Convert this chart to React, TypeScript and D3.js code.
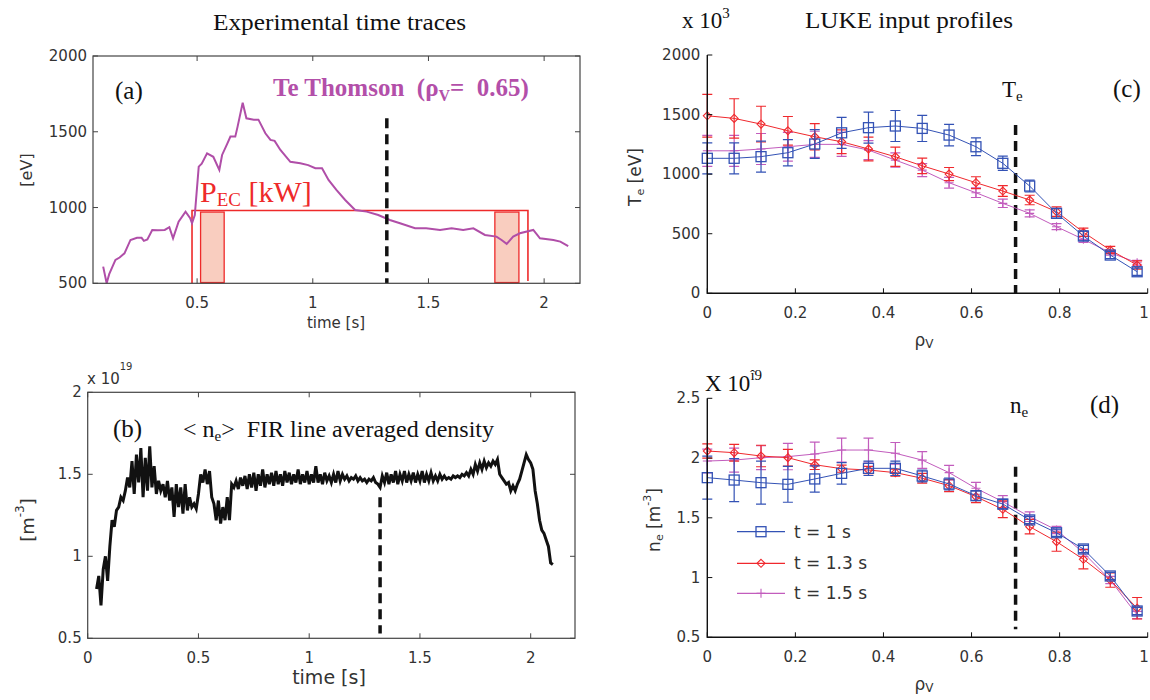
import React from "react";
import * as d3 from "d3";

// ---------- Panel (a): Te Thomson time trace ----------
const teT = [0.094,0.109,0.12,0.147,0.165,0.186,0.212,0.24,0.26,0.27,0.285,0.306,0.33,0.36,0.38,0.396,0.42,0.45,0.47,0.478,0.49,0.507,0.52,0.543,0.57,0.596,0.608,0.63,0.644,0.665,0.675,0.697,0.713,0.745,0.765,0.795,0.817,0.835,0.86,0.903,0.946,0.98,1.011,1.04,1.068,1.102,1.14,1.183,1.233,1.283,1.333,1.377,1.442,1.49,1.55,1.6,1.65,1.694,1.744,1.794,1.816,1.838,1.866,1.895,1.953,1.982,2.04,2.07,2.104];
const teV = [610,500,560,654,670,698,786,800,800,780,790,852,850,852,870,797,907,973,930,896,950,1270,1290,1358,1335,1248,1347,1420,1468,1468,1534,1692,1589,1580,1580,1490,1446,1440,1380,1302,1292,1280,1259,1259,1182,1116,1050,984,973,951,918,896,863,863,852,863,852,863,819,808,786,760,808,830,852,797,786,775,746];
const pecOn = 0.478, pecOff = 1.93, pecLevel = 980;
const pecWindows = [[0.515, 0.617], [1.787, 1.891]];
const tMark = 1.32;
const aXTicks = [0.5, 1, 1.5, 2];
const aYTicks = [500, 1000, 1500, 2000];

// ---------- Panel (b): FIR line averaged density ----------
const nbStart = 0.04, nbStep = 0.01;
const nbV = [
0.80,0.88,0.70,0.92,1.00,0.85,1.06,1.22,1.18,1.28,
1.30,1.36,1.34,1.40,1.48,1.42,1.58,1.38,1.62,1.45,
1.66,1.36,1.60,1.40,1.67,1.42,1.55,1.38,1.46,1.40,
1.44,1.36,1.46,1.34,1.42,1.24,1.44,1.30,1.42,1.26,
1.44,1.28,1.36,1.30,1.32,1.29,1.38,1.50,1.45,1.53,
1.44,1.52,1.36,1.32,1.22,1.34,1.20,1.30,1.22,1.36,
1.22,1.44,1.42,1.46,1.41,1.48,1.43,1.49,1.41,1.50,
1.42,1.51,1.40,1.50,1.43,1.53,1.42,1.50,1.44,1.51,
1.43,1.52,1.44,1.50,1.43,1.52,1.45,1.51,1.44,1.50,
1.45,1.53,1.44,1.50,1.45,1.52,1.44,1.50,1.45,1.55,
1.45,1.50,1.44,1.51,1.46,1.49,1.45,1.50,1.45,1.52,
1.46,1.50,1.47,1.49,1.46,1.48,1.47,1.49,1.46,1.48,
1.46,1.47,1.45,1.47,1.46,1.48,1.45,1.44,1.42,1.49,
1.45,1.51,1.44,1.50,1.45,1.52,1.44,1.50,1.46,1.52,
1.45,1.50,1.46,1.51,1.45,1.50,1.46,1.52,1.45,1.50,
1.46,1.51,1.46,1.49,1.46,1.50,1.47,1.49,1.47,1.48,
1.47,1.49,1.48,1.49,1.48,1.50,1.49,1.51,1.49,1.53,
1.50,1.56,1.52,1.57,1.53,1.58,1.54,1.57,1.55,1.58,
1.56,1.59,1.50,1.48,1.46,1.44,1.45,1.40,1.43,1.40,
1.44,1.47,1.52,1.57,1.62,1.59,1.57,1.53,1.40,1.32,
1.22,1.16,1.14,1.10,1.06,0.96,0.95];
const bXTicks = [0, 0.5, 1, 1.5, 2];
const bYTicks = [0.5, 1, 1.5, 2];

// ---------- Panels (c), (d): LUKE input profiles ----------
const rho = [0,0.061,0.122,0.183,0.244,0.305,0.366,0.427,0.488,0.549,0.610,0.671,0.732,0.793,0.854,0.915,0.976];
const te1 = [1133,1133,1147,1180,1253,1347,1390,1404,1384,1328,1230,1091,900,671,481,321,181];
const te1Err = [130,130,130,110,120,130,130,130,110,90,75,60,50,40,40,30,30];
const te13 = [1490,1468,1420,1364,1314,1272,1211,1146,1070,1001,928,858,783,685,512,363,237];
const te13Err = [180,165,150,120,110,100,100,80,65,55,50,45,40,40,35,30,35];
const te15 = [1196,1196,1211,1230,1250,1250,1202,1118,1034,928,844,755,671,559,453,341,257];
const te15Err = [130,130,130,120,110,100,80,60,55,45,40,35,30,25,25,20,20];

const ne1 = [1.836,1.816,1.794,1.780,1.825,1.872,1.914,1.914,1.850,1.783,1.685,1.615,1.482,1.375,1.239,1.013,0.720];
const ne1Err = [0.18,0.18,0.18,0.15,0.11,0.09,0.06,0.06,0.05,0.05,0.04,0.04,0.03,0.03,0.03,0.03,0.03];
const ne13 = [2.059,2.045,2.017,2.003,1.944,1.911,1.900,1.878,1.831,1.769,1.677,1.571,1.426,1.300,1.153,0.979,0.743];
const ne13Err = [0.06,0.07,0.09,0.07,0.04,0.03,0.03,0.03,0.04,0.05,0.05,0.07,0.06,0.08,0.08,0.06,0.09];
const ne15 = [1.975,1.983,2.003,2.012,2.034,2.067,2.067,2.040,1.983,1.878,1.747,1.635,1.509,1.398,1.208,0.979,0.687];
const ne15Err = [0.10,0.10,0.10,0.11,0.10,0.10,0.10,0.09,0.07,0.06,0.05,0.05,0.04,0.03,0.03,0.03,0.03];

const rhoTicks = [0, 0.2, 0.4, 0.6, 0.8, 1];
const cYTicks = [0, 500, 1000, 1500, 2000];
const dYTicks = [0.5, 1, 1.5, 2, 2.5];
const dYTickLabels = ["0.5", "1", "1.5", "2", "2.5"];
const rhoMark = 0.7;
const legendLabels = ["t = 1 s", "t = 1.3 s", "t = 1.5 s"];

const BLUE = "#3352b5";
const RED = "#f0282d";
const MAG = "#c25cbd";
const SANS = "'DejaVu Sans', sans-serif";
const SERIF = "'Liberation Serif', 'Times New Roman', serif";
const TICKC = "#333";

function fmt(v: number) {
  return String(+v.toFixed(2));
}

function Marker({ kind, x, y, color }: { kind: string; x: number; y: number; color: string }) {
  if (kind === "square") return <rect x={x - 5} y={y - 5} width={10} height={10} fill="none" stroke={color} strokeWidth={1.3} />;
  if (kind === "diamond")
    return <path d={`M${x},${y - 4}L${x + 4},${y}L${x},${y + 4}L${x - 4},${y}Z`} fill="none" stroke={color} strokeWidth={1.1} />;
  return <path d={`M${x - 4.5},${y}H${x + 4.5}M${x},${y - 4.5}V${y + 4.5}`} stroke={color} strokeWidth={1.1} />;
}

function Profile({ xs, ys, errs, x, y, color, kind }: any) {
  const line = d3.line<number>().x((_, i) => x(xs[i])).y((d) => y(d));
  return (
    <g>
      <path d={line(ys) || ""} fill="none" stroke={color} strokeWidth={1} />
      {ys.map((v: number, i: number) => {
        const cx = x(xs[i]);
        const y1 = y(v + errs[i]);
        const y2 = y(v - errs[i]);
        return (
          <g key={i}>
            <path d={`M${cx},${y1}V${y2}M${cx - 5},${y1}H${cx + 5}M${cx - 5},${y2}H${cx + 5}`} stroke={color} strokeWidth={1.2} />
            <Marker kind={kind} x={cx} y={y(v)} color={color} />
          </g>
        );
      })}
    </g>
  );
}

function BoxAxes({ x, y, xTicks, yTicks, xLabelY }: any) {
  const [x0, x1] = x.range();
  const [y0, y1] = y.range();
  const tl = 5;
  return (
    <g>
      <rect x={x0} y={y1} width={x1 - x0} height={y0 - y1} fill="none" stroke="#444" strokeWidth={1.2} />
      {xTicks.map((t: number) => (
        <g key={"x" + t}>
          <path d={`M${x(t)},${y0}v${-tl}M${x(t)},${y1}v${tl}`} stroke="#444" strokeWidth={1} />
          <text x={x(t)} y={xLabelY} textAnchor="middle" dominantBaseline="central" fontFamily={SANS} fontSize={15} fill={TICKC}>
            {fmt(t)}
          </text>
        </g>
      ))}
      {yTicks.map((t: number) => (
        <g key={"y" + t}>
          <path d={`M${x0},${y(t)}h${tl}M${x1},${y(t)}h${-tl}`} stroke="#444" strokeWidth={1} />
          <text x={x0 - 6} y={y(t)} textAnchor="end" dominantBaseline="central" fontFamily={SANS} fontSize={15} fill={TICKC}>
            {fmt(t)}
          </text>
        </g>
      ))}
    </g>
  );
}

function LAxes({ x, y, xTicks, yTicks, yLabels, xLabelY }: any) {
  const [x0] = x.range();
  const [y0, y1] = y.range();
  const tl = 5;
  const xr = x.range()[1];
  return (
    <g>
      <path d={`M${x0},${y1}V${y0}H${xr}`} fill="none" stroke="#111" strokeWidth={1.4} />
      {xTicks.map((t: number, i: number) => (
        <g key={"x" + t}>
          <path d={`M${x(t)},${y0}v${-tl}`} stroke="#111" strokeWidth={1} />
          <text x={i === xTicks.length - 1 ? Math.min(x(t), 1144) : x(t)} y={xLabelY} textAnchor="middle" dominantBaseline="central" fontFamily={SANS} fontSize={15} fill={TICKC}>
            {fmt(t)}
          </text>
        </g>
      ))}
      {yTicks.map((t: number, i: number) => (
        <g key={"y" + t}>
          <path d={`M${x0},${y(t)}h${tl}`} stroke="#111" strokeWidth={1} />
          <text x={x0 - 7} y={y(t)} textAnchor="end" dominantBaseline="central" fontFamily={SANS} fontSize={15} fill={TICKC}>
            {yLabels ? yLabels[i] : fmt(t)}
          </text>
        </g>
      ))}
    </g>
  );
}

export default function App() {
  const xa = d3.scaleLinear().domain([0.05, 2.155]).range([93, 580]);
  const ya = d3.scaleLinear().domain([500, 2000]).range([283.3, 56]);
  const xb = d3.scaleLinear().domain([0, 2.2]).range([87.7, 575]);
  const yb = d3.scaleLinear().domain([0.5, 2]).range([638.3, 392.3]);
  const xc = d3.scaleLinear().domain([0, 1]).range([707.3, 1147.7]);
  const yc = d3.scaleLinear().domain([0, 2000]).range([293.3, 55]);
  const xd = d3.scaleLinear().domain([0, 1]).range([707.3, 1147.7]);
  const yd = d3.scaleLinear().domain([0.5, 2.5]).range([637.3, 398.3]);

  const lineA = d3.line<number>().x((_, i) => xa(teT[i])).y((d) => ya(d));
  const lineB = d3.line<number>().x((_, i) => xb(nbStart + i * nbStep)).y((d) => yb(d));

  const pecPath = `M${xa(pecOn)},${ya(500)}V${ya(pecLevel)}H${xa(pecOff)}V${ya(515)}`;

  const legendY = [531.7, 563.3, 593.3];
  const legendSpec = [
    { c: BLUE, k: "square" },
    { c: RED, k: "diamond" },
    { c: MAG, k: "plus" },
  ];

  return (
    <svg width={1150} height={700} style={{ position: "absolute", left: 0, top: 0, background: "#fff" }}>
      {/* Titles */}
      <text x={213} y={30} fontFamily={SERIF} fontSize={23} textLength={253} lengthAdjust="spacingAndGlyphs" fill="#111">
        Experimental time traces
      </text>
      <text x={805} y={28} fontFamily={SERIF} fontSize={23} textLength={208} lengthAdjust="spacingAndGlyphs" fill="#111">
        LUKE input profiles
      </text>

      {/* ---------- Panel (a) ---------- */}
      <g>
        {pecWindows.map((w, i) => (
          <rect key={i} x={xa(w[0])} y={ya(pecLevel) + 1.5} width={xa(w[1]) - xa(w[0])} height={ya(505) - ya(pecLevel) - 1.5}
            fill="#f9cdbf" stroke="#ee2a2a" strokeWidth={1.3} />
        ))}
        <path d={pecPath} fill="none" stroke="#ee2a2a" strokeWidth={1.6} />
        <path d={lineA(teV) || ""} fill="none" stroke="#b04ea8" strokeWidth={2} />
        <line x1={xa(tMark)} x2={xa(tMark)} y1={ya(1590)} y2={ya(500)} stroke="#111" strokeWidth={3.5} strokeDasharray="10,6" />
        <BoxAxes x={xa} y={ya} xTicks={aXTicks} yTicks={aYTicks} xLabelY={303} />
        <text x={336} y={323} textAnchor="middle" dominantBaseline="central" fontFamily={SANS} fontSize={15} fill={TICKC}>time [s]</text>
        <text transform="translate(26,170) rotate(-90)" textAnchor="middle" dominantBaseline="central" fontFamily={SANS} fontSize={16} fill={TICKC}>[eV]</text>
        <text x={115} y={99} fontFamily={SERIF} fontSize={25} fill="#111">(a)</text>
        <text x={273} y={96} fontFamily={SERIF} fontSize={25} fontWeight="bold" fill="#b34fa9">
          Te Thomson{"\u00a0\u00a0"}(ρ<tspan fontSize={16} dy={5}>V</tspan><tspan dy={-5}>{"=\u00a0\u00a00.65)"}</tspan>
        </text>
        <text x={200} y={202} fontFamily={SERIF} fontSize={30} fill="#ee2a2a">
          P<tspan fontSize={19} dy={4}>EC</tspan><tspan dy={-4}> [kW]</tspan>
        </text>
      </g>

      {/* ---------- Panel (b) ---------- */}
      <g>
        <path d={lineB(nbV) || ""} fill="none" stroke="#111" strokeWidth={3} strokeLinejoin="miter" />
        <line x1={xb(tMark)} x2={xb(tMark)} y1={yb(1.36)} y2={yb(0.53)} stroke="#111" strokeWidth={3.5} strokeDasharray="10,6" />
        <BoxAxes x={xb} y={yb} xTicks={bXTicks} yTicks={bYTicks} xLabelY={658} />
        <text x={329} y={677} textAnchor="middle" dominantBaseline="central" fontFamily={SANS} fontSize={19} fill={TICKC}>time [s]</text>
        <text transform="translate(27,520) rotate(-90)" textAnchor="middle" dominantBaseline="central" fontFamily={SANS} fontSize={18} fill={TICKC}>
          [m<tspan fontSize={12} dy={-7}>-3</tspan><tspan dy={7}>]</tspan>
        </text>
        <text x={87} y={384} fontFamily={SANS} fontSize={15} fill={TICKC}>
          x 10<tspan fontSize={10} dy={-14}>19</tspan>
        </text>
        <text x={113} y={437} fontFamily={SERIF} fontSize={25} fill="#111">(b)</text>
        <text x={183} y={437} fontFamily={SERIF} fontSize={24} fill="#111">
          {"< n"}<tspan fontSize={15} dy={4}>e</tspan><tspan dy={-4}>{">\u00a0\u00a0FIR line averaged density"}</tspan>
        </text>
      </g>

      {/* ---------- Panel (c) ---------- */}
      <g>
        <line x1={xc(rhoMark)} x2={xc(rhoMark)} y1={yc(1412)} y2={yc(0)} stroke="#111" strokeWidth={3.5} strokeDasharray="10,6" />
        <Profile xs={rho} ys={te15} errs={te15Err} x={xc} y={yc} color={MAG} kind="plus" />
        <Profile xs={rho} ys={te13} errs={te13Err} x={xc} y={yc} color={RED} kind="diamond" />
        <Profile xs={rho} ys={te1} errs={te1Err} x={xc} y={yc} color={BLUE} kind="square" />
        <LAxes x={xc} y={yc} xTicks={rhoTicks} yTicks={cYTicks} xLabelY={313} />
        <text x={924} y={340} textAnchor="middle" dominantBaseline="central" fontFamily={SANS} fontSize={17} fill={TICKC}>
          ρ<tspan fontSize={12} dy={4}>V</tspan>
        </text>
        <text transform="translate(635,177) rotate(-90)" textAnchor="middle" dominantBaseline="central" fontFamily={SANS} fontSize={17} fill={TICKC}>
          T<tspan fontSize={11} dy={5}>e</tspan><tspan dy={-5}> [eV]</tspan>
        </text>
        <text x={682} y={28} fontFamily={SERIF} fontSize={23} fill="#111">
          x 10<tspan fontSize={15} dy={-10}>3</tspan>
        </text>
        <text x={1002} y={97} fontFamily={SERIF} fontSize={23} fill="#111">
          T<tspan fontSize={15} dy={4}>e</tspan>
        </text>
        <text x={1113} y={97} fontFamily={SERIF} fontSize={25} fill="#111">(c)</text>
      </g>

      {/* ---------- Panel (d) ---------- */}
      <g>
        <line x1={xd(rhoMark)} x2={xd(rhoMark)} y1={yd(1.928)} y2={yd(0.567)} stroke="#111" strokeWidth={3.5} strokeDasharray="10,6" />
        <Profile xs={rho} ys={ne15} errs={ne15Err} x={xd} y={yd} color={MAG} kind="plus" />
        <Profile xs={rho} ys={ne13} errs={ne13Err} x={xd} y={yd} color={RED} kind="diamond" />
        <Profile xs={rho} ys={ne1} errs={ne1Err} x={xd} y={yd} color={BLUE} kind="square" />
        <LAxes x={xd} y={yd} xTicks={rhoTicks} yTicks={dYTicks} yLabels={dYTickLabels} xLabelY={657} />
        <text x={924} y={684} textAnchor="middle" dominantBaseline="central" fontFamily={SANS} fontSize={17} fill={TICKC}>
          ρ<tspan fontSize={12} dy={4}>V</tspan>
        </text>
        <text transform="translate(654,520) rotate(-90)" textAnchor="middle" dominantBaseline="central" fontFamily={SANS} fontSize={17} fill={TICKC}>
          n<tspan fontSize={11} dy={5}>e</tspan><tspan dy={-5}> [m</tspan><tspan fontSize={11} dy={-7}>-3</tspan><tspan dy={7}>]</tspan>
        </text>
        <text x={705} y={391} fontFamily={SERIF} fontSize={23} fill="#111">
          X 10<tspan fontSize={15} dy={-11}>î9</tspan>
        </text>
        <text x={1010} y={413} fontFamily={SERIF} fontSize={23} fill="#111">
          n<tspan fontSize={15} dy={4}>e</tspan>
        </text>
        <text x={1090} y={413} fontFamily={SERIF} fontSize={25} fill="#111">(d)</text>
        {legendSpec.map((s, i) => (
          <g key={i}>
            <line x1={737} x2={785} y1={legendY[i]} y2={legendY[i]} stroke={s.c} strokeWidth={1.2} />
            <Marker kind={s.k} x={761} y={legendY[i]} color={s.c} />
            <text x={794} y={legendY[i]} dominantBaseline="central" fontFamily={SANS} fontSize={17} fill={TICKC}>
              {legendLabels[i]}
            </text>
          </g>
        ))}
      </g>
    </svg>
  );
}
